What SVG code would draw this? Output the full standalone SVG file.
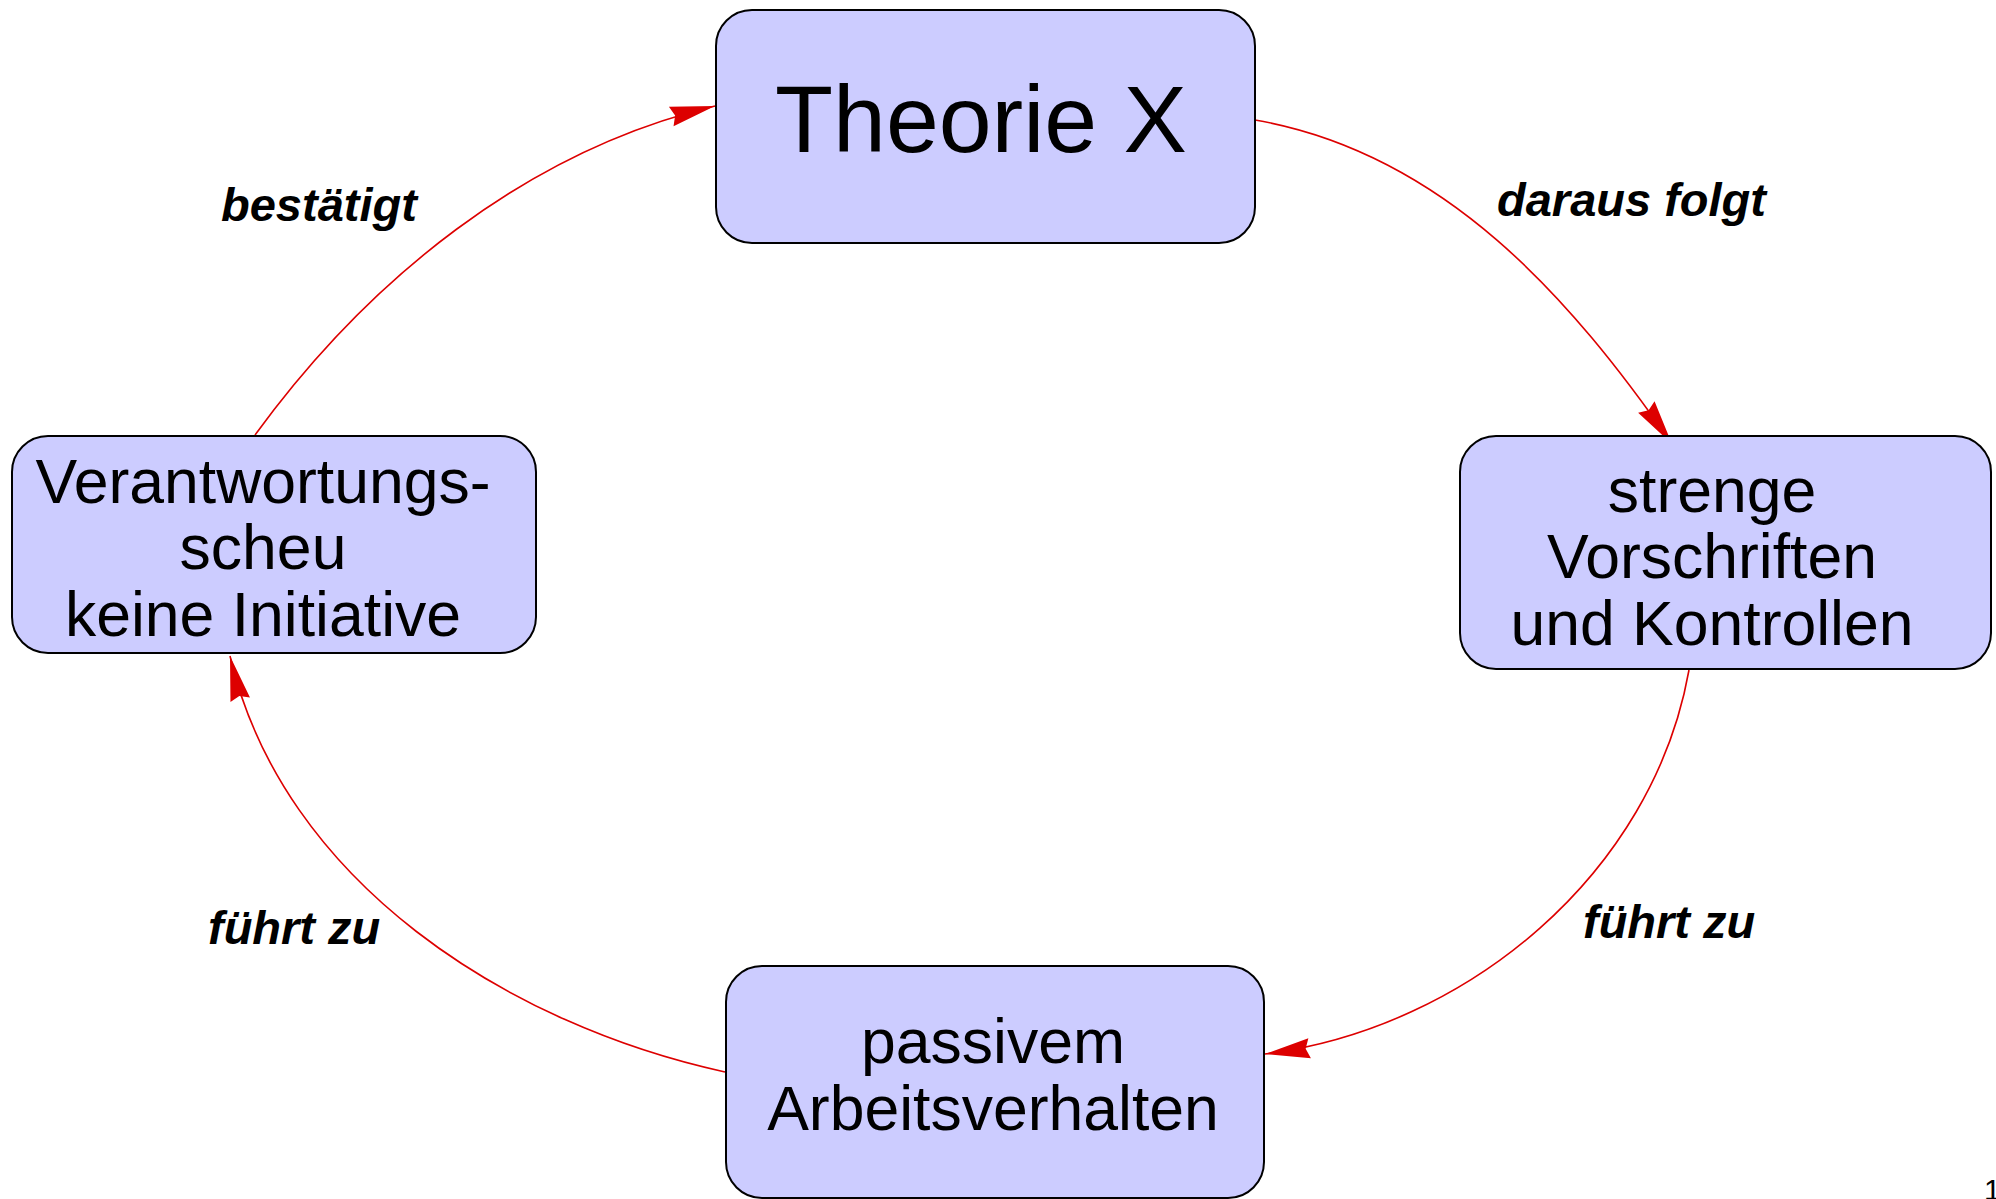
<svg xmlns="http://www.w3.org/2000/svg" width="1996" height="1199" viewBox="0 0 1996 1199">
<style>
.box{fill:#ccccff;stroke:#000;stroke-width:2}
.nt{font-family:"Liberation Sans",Arial,sans-serif;fill:#000;text-anchor:middle}
.lbl{font-family:"Liberation Sans",Arial,sans-serif;font-weight:bold;font-style:italic;font-size:47px;fill:#000}
.edge{fill:none;stroke:#dd0000;stroke-width:1.6}
</style>
<defs>
<marker id="ah" markerUnits="userSpaceOnUse" viewBox="-46 -11 47 22" refX="0" refY="0" markerWidth="47" markerHeight="22" orient="auto">
<path d="M0,0 L-45,-10 L-41,0 L-45,10 Z" fill="#dd0000"/>
</marker>
</defs>
<rect width="1996" height="1199" fill="#fff"/>
<g id="connectors">
<path class="edge" d="M1255,120 C1445,153 1572,300 1672,444" marker-end="url(#ah)"/>
<path class="edge" d="M1689,670 C1653,873 1468,1028 1265,1054" marker-end="url(#ah)"/>
<path class="edge" d="M725,1072 C509,1025 283,883 230,656" marker-end="url(#ah)"/>
<path class="edge" d="M255,435 C368,280 526,151 715,106" marker-end="url(#ah)"/>
<text class="lbl" x="1497" y="216">daraus folgt</text>
<text class="lbl" x="1583" y="938">führt zu</text>
<text class="lbl" x="208" y="944">führt zu</text>
<text class="lbl" x="221" y="221">bestätigt</text>
</g>
<g id="node-theorie-x">
<rect class="box" x="716" y="10" width="539" height="233" rx="36" ry="36"/>
<text class="nt" x="981" y="152" font-size="95">Theorie X</text>
</g>
<g id="node-vorschriften">
<rect class="box" x="1460" y="436" width="531" height="233" rx="36" ry="36"/>
<text class="nt" font-size="62.5"><tspan x="1712" y="512">strenge</tspan><tspan x="1712" y="578">Vorschriften</tspan><tspan x="1712" y="645">und Kontrollen</tspan></text>
</g>
<g id="node-passiv">
<rect class="box" x="726" y="966" width="538" height="232" rx="36" ry="36"/>
<text class="nt" font-size="62.5"><tspan x="993" y="1063">passivem</tspan><tspan x="993" y="1130">Arbeitsverhalten</tspan></text>
</g>
<g id="node-verantwortung">
<rect class="box" x="12" y="436" width="524" height="217" rx="36" ry="36"/>
<text class="nt" font-size="62.5"><tspan x="263" y="503">Verantwortungs-</tspan><tspan x="263" y="569">scheu</tspan><tspan x="263" y="636">keine Initiative</tspan></text>
</g>
<text x="1984" y="1200" font-family="Liberation Sans, Arial, sans-serif" font-size="30">1</text>
</svg>
